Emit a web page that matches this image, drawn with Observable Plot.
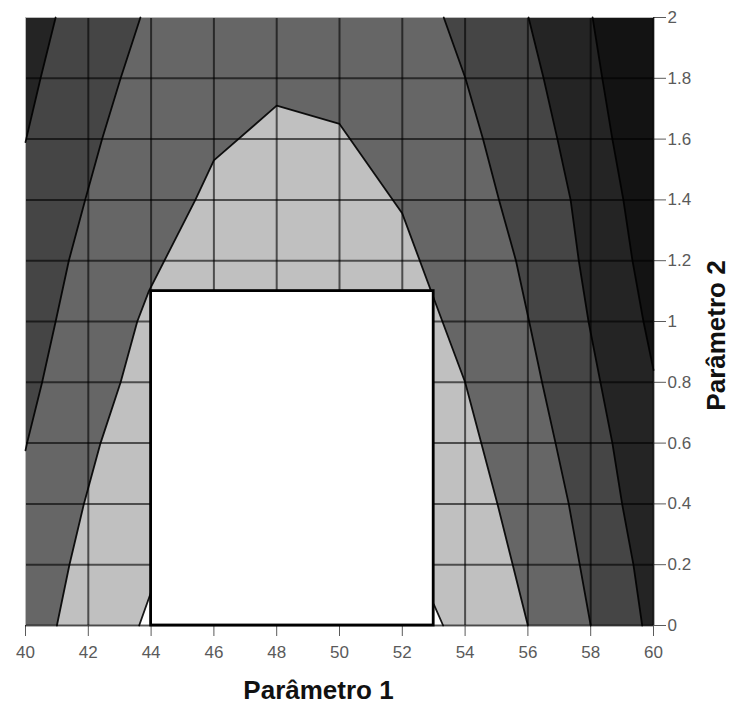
<!DOCTYPE html>
<html>
<head>
<meta charset="utf-8">
<script src="https://cdn.jsdelivr.net/npm/d3@7"></script>
<script src="https://cdn.jsdelivr.net/npm/@observablehq/plot@0.6"></script>
<style>
  html, body { margin: 0; padding: 0; background: white; }
  #chart { width: 732px; height: 706px; }
</style>
</head>
<body>
<div id="chart"></div>
<script>
// Axis ticks
const xTicks = [40, 42, 44, 46, 48, 50, 52, 54, 56, 58, 60];
const yTicks = [0, 0.2, 0.4, 0.6, 0.8, 1, 1.2, 1.4, 1.6, 1.8, 2];

// Contour boundaries: [Parâmetro 1, Parâmetro 2]
const contourA = [[41, 0], [41.4, 0.2], [41.86, 0.4], [42.39, 0.6], [43.03, 0.8], [43.56, 1.0], [43.93, 1.1],
  [45.41, 1.4], [46, 1.53], [48, 1.71], [50, 1.65], [52, 1.355], [53.06, 1.06], [54, 0.8], [55.03, 0.4], [56, 0]];
const contourB = [[43.66, 2], [43.03, 1.8], [42.44, 1.6], [41.9, 1.4], [41.38, 1.2], [40.96, 1.0], [40.53, 0.8], [40.05, 0.6], [40, 0.576]];
const contourC = [[40.96, 2], [40.48, 1.8], [40, 1.59]];
const contourD = [[53.32, 2], [54.01, 1.8], [54.57, 1.6], [55.08, 1.4], [55.62, 1.2], [56.04, 1.0], [56.45, 0.8], [56.88, 0.6], [57.3, 0.4], [57.65, 0.2], [58, 0]];
const contourE = [[56.02, 2], [56.5, 1.8], [56.94, 1.6], [57.36, 1.4], [57.62, 1.2], [57.93, 1.0], [58.31, 0.8], [58.69, 0.6], [59.0, 0.4], [59.36, 0.2], [59.64, 0]];
const contourF = [[58.06, 2], [58.37, 1.8], [58.69, 1.6], [59.04, 1.4], [59.33, 1.2], [59.68, 1.0], [60, 0.84]];
const contourW = [[43.62, 0], [44, 0.11], [53, 0.07], [53.3, 0]];

// Domain corners
const xDomain = [40, 60];
const yDomain = [0, 2];

// Highlighted box
const boxX = [44, 53];
const boxY = [0, 1.1];

// Level colours (lightest to darkest)
const levelColors = ["#ffffff", "#c0c0c0", "#666666", "#454545", "#242424", "#131313"];

const pts = a => a.map(([x, y]) => ({x, y}));
const [x0, x1] = xDomain;
const [y0, y1] = yDomain;

const regions = [
  {pts: pts([[x0, y1], ...contourB]), fill: levelColors[3]},
  {pts: pts([[x0, y1], ...contourC]), fill: levelColors[4]},
  {pts: pts([...contourD, [x1, y0], [x1, y1]]), fill: levelColors[3]},
  {pts: pts([...contourE, [x1, y0], [x1, y1]]), fill: levelColors[4]},
  {pts: pts([...contourF, [x1, y1]]), fill: levelColors[5]},
  {pts: pts(contourA), fill: levelColors[1]},
  {pts: pts(contourW), fill: levelColors[0]}
];

const boundaries = [contourA, contourB, contourC, contourD, contourE, contourF, contourW];

const marks = [
  Plot.frame({fill: levelColors[2], stroke: null}),
  ...regions.map(r => Plot.line(r.pts, {x: "x", y: "y", fill: r.fill, stroke: "none"})),
  Plot.ruleX(xTicks.filter(v => v > x0), {stroke: "black", strokeOpacity: 0.6, strokeWidth: 2}),
  Plot.ruleY(yTicks.filter(v => v < y1), {stroke: "black", strokeOpacity: 0.6, strokeWidth: 2}),
  Plot.ruleX([x0], {stroke: "#bbbbbb", strokeWidth: 1}),
  Plot.ruleY([y1], {stroke: "#bbbbbb", strokeWidth: 1}),
  ...boundaries.map(b => Plot.line(pts(b), {x: "x", y: "y", stroke: "black", strokeOpacity: 0.9, strokeWidth: 1.8})),
  Plot.rect([{x1: boxX[0], x2: boxX[1], y1: boxY[0], y2: boxY[1]}],
    {x1: "x1", x2: "x2", y1: "y1", y2: "y2", fill: "white", stroke: "black", strokeWidth: 2.8}),
  Plot.text(["Parâmetro 1"], {frameAnchor: "bottom", textAnchor: "middle", lineAnchor: "middle", dx: -21, dy: 65, fontSize: 26, fontWeight: "bold", fill: "#111"}),
  Plot.text(["Parâmetro 2"], {frameAnchor: "right", textAnchor: "middle", lineAnchor: "middle", rotate: -90, dx: 63, dy: 14, fontSize: 26, fontWeight: "bold", fill: "#111"})
];

const chart = Plot.plot({
  width: 732,
  height: 706,
  marginLeft: 25,
  marginRight: 79,
  marginTop: 17,
  marginBottom: 81,
  style: {fontFamily: "'Liberation Sans', Arial, sans-serif", fontSize: "17px", color: "#5a5a5a", background: "white", overflow: "visible"},
  x: {domain: xDomain, ticks: xTicks, tickSize: 11, tickPadding: 9, tickFormat: d => String(d), label: null},
  y: {domain: yDomain, axis: "right", ticks: yTicks, tickSize: 12, tickPadding: 2, tickFormat: d => String(+d.toFixed(1)), label: null},
  marks
});
document.getElementById("chart").appendChild(chart);
</script>
</body>
</html>
